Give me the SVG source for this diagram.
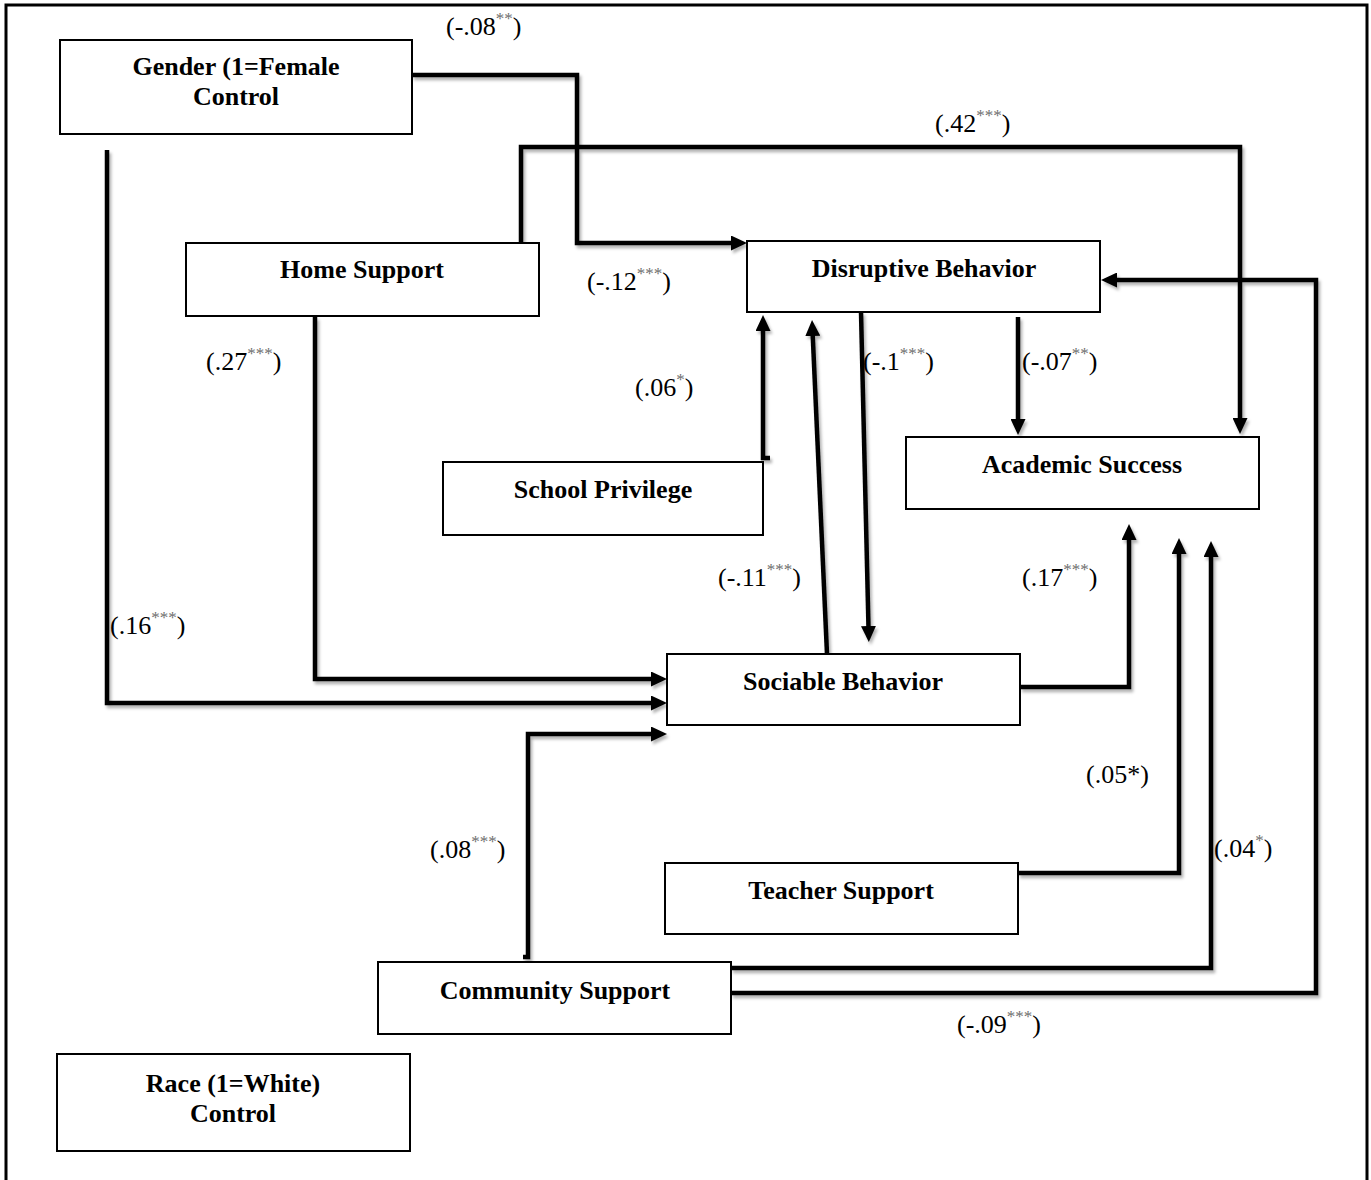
<svg xmlns="http://www.w3.org/2000/svg" width="1371" height="1180" viewBox="0 0 1371 1180">
<style>
.box{fill:#fff;stroke:#000;stroke-width:2}
.nt{font-family:"Liberation Serif","Times New Roman",serif;font-weight:bold;font-size:26px;fill:#000;text-anchor:middle}
.lb{font-family:"Liberation Serif","Times New Roman",serif;font-size:26px;fill:#000}
.sup{font-size:17px;fill:#6e6e6e}
.c{fill:none;stroke:#000;stroke-width:4.5;stroke-linejoin:miter;marker-end:url(#ah)}
</style>
<defs>
<marker id="ah" markerUnits="userSpaceOnUse" markerWidth="16" markerHeight="15" refX="10" refY="7.5" orient="auto">
<path d="M0,0 L16,7.5 L0,15 z" fill="#000"/>
</marker>
<filter id="sh" x="-5%" y="-5%" width="110%" height="110%">
<feDropShadow dx="2" dy="3" stdDeviation="1.5" flood-color="#000" flood-opacity="0.3"/>
</filter>
</defs>
<rect width="1371" height="1180" fill="#fff"/>
<path d="M6,1180 V5 H1367 V1180" fill="none" stroke="#000" stroke-width="3"/>

<g id="connectors" filter="url(#sh)">
<path class="c" d="M412,75 H577 V243 H741"/>
<path class="c" d="M521,243 V147 H1240 V428"/>
<path class="c" d="M315,317 V679 H661"/>
<path class="c" d="M107,150 V703 H661"/>
<path class="c" d="M770,458 H763 V321"/>
<path class="c" d="M827,654 L812.3,326"/>
<path class="c" d="M861,312 L868.7,636"/>
<path class="c" d="M1018,317 V429"/>
<path class="c" d="M1020,687 H1129 V530"/>
<path class="c" d="M1018,873 H1179 V544"/>
<path class="c" d="M731,968 H1211 V547"/>
<path class="c" d="M731,993 H1316 V280 H1107"/>
<path class="c" d="M523,957 H528 V734 H661"/>
</g>

<g id="gender"><rect class="box" x="60" y="40" width="352" height="94"/><text class="nt" x="236" y="75">Gender (1=Female</text><text class="nt" x="236" y="105">Control</text></g>
<g id="home"><rect class="box" x="186" y="243" width="353" height="73"/><text class="nt" x="362" y="278">Home Support</text></g>
<g id="disruptive"><rect class="box" x="747" y="241" width="353" height="71"/><text class="nt" x="924" y="277">Disruptive Behavior</text></g>
<g id="school"><rect class="box" x="443" y="462" width="320" height="73"/><text class="nt" x="603" y="498">School Privilege</text></g>
<g id="academic"><rect class="box" x="906" y="437" width="353" height="72"/><text class="nt" x="1082" y="473">Academic Success</text></g>
<g id="sociable"><rect class="box" x="667" y="654" width="353" height="71"/><text class="nt" x="843" y="690">Sociable Behavior</text></g>
<g id="teacher"><rect class="box" x="665" y="863" width="353" height="71"/><text class="nt" x="841" y="899">Teacher Support</text></g>
<g id="community"><rect class="box" x="378" y="962" width="353" height="72"/><text class="nt" x="555" y="999">Community Support</text></g>
<g id="race"><rect class="box" x="57" y="1054" width="353" height="97"/><text class="nt" x="233" y="1092">Race (1=White)</text><text class="nt" x="233" y="1122">Control</text></g>

<g id="labels">
<text class="lb" x="446" y="35">(-.08<tspan class="sup" dy="-11">**</tspan><tspan dy="11">)</tspan></text>
<text class="lb" x="935" y="132">(.42<tspan class="sup" dy="-11">***</tspan><tspan dy="11">)</tspan></text>
<text class="lb" x="587" y="290">(-.12<tspan class="sup" dy="-11">***</tspan><tspan dy="11">)</tspan></text>
<text class="lb" x="206" y="370">(.27<tspan class="sup" dy="-11">***</tspan><tspan dy="11">)</tspan></text>
<text class="lb" x="635" y="396">(.06<tspan class="sup" dy="-11">*</tspan><tspan dy="11">)</tspan></text>
<text class="lb" x="110" y="634">(.16<tspan class="sup" dy="-11">***</tspan><tspan dy="11">)</tspan></text>
<text class="lb" x="863" y="370">(-.1<tspan class="sup" dy="-11">***</tspan><tspan dy="11">)</tspan></text>
<text class="lb" x="1022" y="370">(-.07<tspan class="sup" dy="-11">**</tspan><tspan dy="11">)</tspan></text>
<text class="lb" x="718" y="586">(-.11<tspan class="sup" dy="-11">***</tspan><tspan dy="11">)</tspan></text>
<text class="lb" x="1022" y="586">(.17<tspan class="sup" dy="-11">***</tspan><tspan dy="11">)</tspan></text>
<text class="lb" x="1086" y="783">(.05*)</text>
<text class="lb" x="1214" y="857">(.04<tspan class="sup" dy="-11">*</tspan><tspan dy="11">)</tspan></text>
<text class="lb" x="957" y="1033">(-.09<tspan class="sup" dy="-11">***</tspan><tspan dy="11">)</tspan></text>
<text class="lb" x="430" y="858">(.08<tspan class="sup" dy="-11">***</tspan><tspan dy="11">)</tspan></text>
</g>
</svg>
